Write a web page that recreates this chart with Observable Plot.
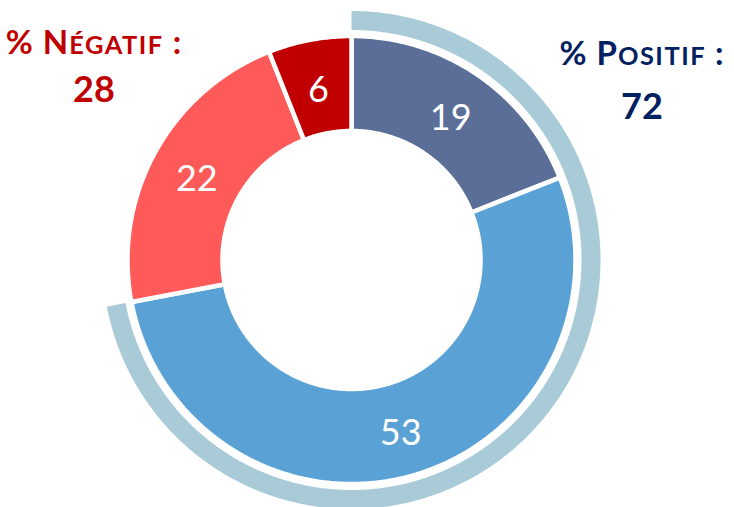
<!DOCTYPE html>
<html><head><meta charset="utf-8">
<script src="https://cdn.jsdelivr.net/npm/d3@7"></script>
<script src="https://cdn.jsdelivr.net/npm/@observablehq/plot@0.6"></script>
<style>
html,body{margin:0;padding:0;background:#fff;}
#wrap{position:relative;width:734px;height:507px;overflow:hidden;font-family:Lato,"Open Sans",sans-serif;}
#wrap svg{position:absolute;left:0;top:0;}
.lbl{position:absolute;font-weight:700;white-space:nowrap;line-height:1;transform:translateX(-50%);}
.sc{font-size:0.77em;letter-spacing:1.5px;}
</style></head><body>
<div id="wrap"></div>
<script>
// ---- data ----
const categories = ["Très positif", "Plutôt positif", "Plutôt négatif", "Très négatif"];
const values = [19, 53, 22, 6];
const sliceColors = ["#5a6e98", "#5aa2d5", "#ff5a5a", "#c00000"];
const groupNames = ["Positif", "Négatif"];
const groupTotals = [72, 28];
const groupColors = ["#002060", "#c00000"];
const ringColor = "#a9cbd8";

// ---- geometry (layout) ----
const W = 734, H = 507;
const cx = 351, cy = 259.5;
const rIn = 129, rOut = 224, ringIn = 230, ringOut = 249;

const total = d3.sum(values);
let acc = 0;
const slices = values.map((v, i) => {
  const a0 = acc / total * 2 * Math.PI; acc += v;
  const a1 = acc / total * 2 * Math.PI;
  return {key: categories[i], value: v, color: sliceColors[i], a0, a1};
});

function arcPoints(key, color, a0, a1, r0, r1) {
  const n = Math.max(2, Math.ceil((a1 - a0) / (Math.PI / 360)));
  const pts = [];
  for (let k = 0; k <= n; k++) { const a = a0 + (a1 - a0) * k / n; pts.push({key, color, x: r1 * Math.sin(a), y: r1 * Math.cos(a)}); }
  for (let k = n; k >= 0; k--) { const a = a0 + (a1 - a0) * k / n; pts.push({key, color, x: r0 * Math.sin(a), y: r0 * Math.cos(a)}); }
  return pts;
}

const slicePts = slices.flatMap(s => arcPoints(s.key, s.color, s.a0, s.a1, rIn, rOut));
const posShare = groupTotals[0] / d3.sum(groupTotals);
const ringPts = arcPoints("ring", ringColor, 0, posShare * 2 * Math.PI, ringIn, ringOut);
const rMid = (rIn + rOut) / 2;
const labels = slices.map(s => {
  const a = (s.a0 + s.a1) / 2;
  return {text: String(s.value), x: rMid * Math.sin(a), y: rMid * Math.cos(a)};
});

const chart = Plot.plot({
  width: W, height: H, margin: 0,
  x: {domain: [-cx, W - cx], axis: null},
  y: {domain: [cy - H, cy], axis: null},
  color: {type: "identity"},
  marks: [
    Plot.line(ringPts, {x: "x", y: "y", z: "key", fill: "color", stroke: "none", curve: "linear-closed"}),
    Plot.line(slicePts, {x: "x", y: "y", z: "key", fill: "color", stroke: "white", strokeWidth: 4.5, strokeLinejoin: "miter", curve: "linear-closed"}),
    Plot.text(labels, {x: "x", y: "y", dy: 4, text: "text", fill: "white", fontSize: 36, fontFamily: "Lato, sans-serif", fontWeight: 400})
  ]
});
const wrap = document.getElementById("wrap");
wrap.appendChild(chart);

function addGroupLabel(i, cxp, topTitle, topNum) {
  const name = groupNames[i];
  const t = document.createElement("div");
  t.className = "lbl";
  t.style.left = cxp + "px"; t.style.top = topTitle + "px";
  t.style.fontSize = "33px"; t.style.letterSpacing = "1px"; t.style.color = groupColors[i];
  t.innerHTML = "% " + name[0].toUpperCase() + '<span class="sc">' + name.slice(1).toUpperCase() + "</span> :";
  wrap.appendChild(t);
  const n = document.createElement("div");
  n.className = "lbl";
  n.style.left = cxp + "px"; n.style.top = topNum + "px";
  n.style.fontSize = "36px"; n.style.color = groupColors[i];
  n.textContent = String(groupTotals[i]);
  wrap.appendChild(n);
}
addGroupLabel(0, 642, 36, 87);
addGroupLabel(1, 94, 25, 70);
</script>
</body></html>
